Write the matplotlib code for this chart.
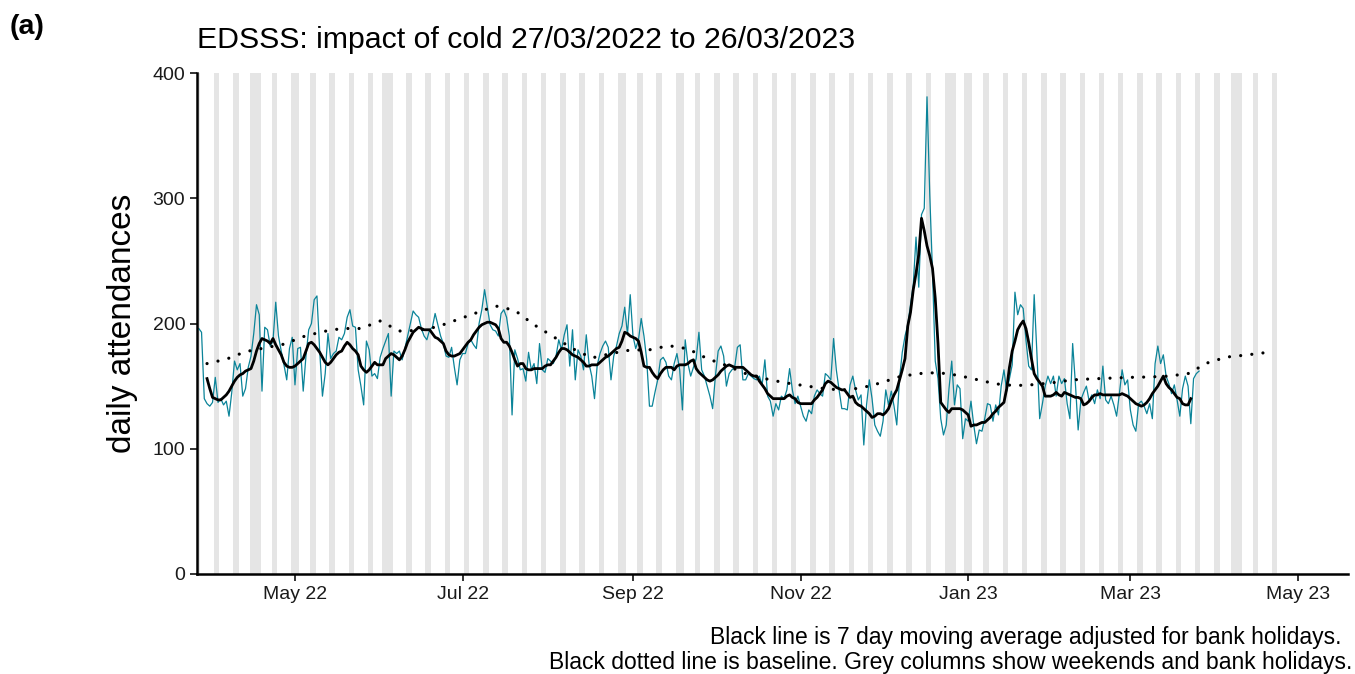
import pandas as pd
import numpy as np
import matplotlib.pyplot as plt
import matplotlib.dates as mdates

plt.rcParams['font.family'] = ['Liberation Sans', 'DejaVu Sans']

start = pd.Timestamp('2022-03-27')

# daily attendances, 27/03/2022 .. 26/03/2023 (one row = one week)
daily = [
    196, 193, 140, 136, 134, 137, 157,
    137, 140, 135, 138, 126, 145, 170,
    163, 168, 142, 148, 165, 174, 192,
    215, 207, 146, 197, 195, 182, 186,
    217, 190, 178, 167, 155, 180, 189,
    151, 180, 181, 146, 174, 195, 200,
    219, 222, 178, 142, 160, 192, 172,
    176, 178, 189, 187, 192, 205, 211,
    198, 197, 163, 150, 135, 186, 179,
    158, 160, 156, 173, 180, 186, 192,
    142, 178, 176, 178, 171, 180, 190,
    200, 210, 207, 205, 196, 190, 187,
    195, 197, 208, 199, 190, 184, 174,
    173, 181, 165, 151, 171, 176, 176,
    184, 187, 183, 180, 200, 211, 227,
    213, 199, 195, 194, 190, 208, 211,
    205, 190, 127, 179, 172, 163, 164,
    154, 177, 163, 168, 152, 184, 163,
    161, 172, 170, 168, 174, 187, 179,
    191, 199, 166, 195, 155, 179, 174,
    163, 191, 168, 158, 140, 167, 176,
    182, 186, 181, 155, 174, 182, 192,
    198, 213, 191, 223, 190, 180, 187,
    204, 190, 171, 134, 134, 145, 155,
    171, 173, 169, 158, 155, 168, 176,
    163, 131, 187, 168, 158, 165, 172,
    193, 163, 158, 150, 142, 132, 158,
    178, 182, 174, 150, 160, 163, 165,
    181, 183, 155, 155, 160, 158, 156,
    155, 158, 151, 171, 142, 138, 126,
    136, 131, 142, 140, 147, 164, 147,
    136, 142, 134, 126, 122, 131, 128,
    142, 147, 144, 142, 160, 158, 155,
    188, 163, 147, 132, 132, 131, 151,
    158, 147, 139, 143, 103, 135, 155,
    140, 119, 114, 110, 122, 147, 135,
    146, 134, 119, 156, 177, 190, 199,
    215, 231, 269, 229, 287, 292, 381,
    303, 241, 170, 156, 124, 111, 119,
    148, 170, 135, 151, 148, 108, 124,
    122, 138, 119, 104, 115, 114, 124,
    136, 135, 122, 135, 127, 150, 163,
    146, 156, 167, 225, 207, 215, 212,
    187, 166, 163, 223, 176, 124, 136,
    150, 158, 152, 158, 142, 158, 152,
    156, 136, 124, 184, 152, 115, 139,
    145, 150, 138, 143, 136, 147, 140,
    166, 139, 136, 142, 135, 126, 144,
    163, 151, 155, 131, 119, 114, 136,
    138, 134, 128, 136, 124, 168, 182,
    168, 175, 158, 152, 144, 151, 139,
    126, 148, 158, 150, 120, 156, 160,
    162,
]

# 7 day moving average, 30/03/2022 .. 23/03/2023
moving_avg = [
    156, 148, 141, 140, 139, 139, 141,
    143, 146, 150, 154, 157, 159, 160,
    162, 163, 164, 170, 178, 184, 188,
    187, 186, 184, 188, 183, 179, 175,
    169, 166, 165, 165, 166, 168, 170,
    172, 178, 184, 185, 183, 180, 177,
    173, 169, 167, 169, 172, 175, 177,
    178, 182, 185, 183, 180, 178, 175,
    166, 163, 161, 163, 166, 169, 167,
    167, 167, 172, 174, 176, 175, 173,
    171, 174, 179, 185, 189, 193, 195,
    197, 196, 195, 195, 195, 192, 189,
    188, 186, 184, 178, 175, 174, 174,
    175, 176, 179, 182, 185, 187, 191,
    194, 197, 199, 200, 201, 201, 200,
    199, 196, 188, 185, 185, 182, 177,
    171, 166, 168, 168, 164, 163, 163,
    164, 164, 164, 164, 166, 167, 167,
    170, 173, 177, 180, 180, 179, 177,
    175, 174, 173, 171, 169, 166, 166,
    167, 167, 167, 169, 171, 173, 174,
    176, 178, 180, 181, 186, 193, 192,
    190, 189, 188, 186, 177, 166, 165,
    165, 161, 158, 156, 160, 163, 165,
    165, 165, 163, 166, 167, 167, 167,
    168, 170, 171, 164, 161, 159, 157,
    155, 154, 155, 157, 159, 162, 164,
    166, 167, 166, 165, 165, 165, 165,
    163, 161, 159, 158, 158, 154, 151,
    148, 144, 142, 140, 140, 140, 140,
    140, 142, 143, 141, 140, 137, 136,
    136, 136, 136, 136, 139, 141, 144,
    147, 152, 154, 153, 151, 149, 148,
    147, 147, 144, 141, 142, 137, 135,
    134, 132, 130, 128, 125, 126, 128,
    128, 127, 129, 132, 138, 143, 147,
    155, 163, 172, 198, 209, 227, 240,
    255, 284, 274, 262, 254, 244, 220,
    184, 137, 134, 131, 129, 132, 132,
    132, 132, 131, 129, 127, 118, 119,
    119, 120, 121, 121, 123, 125, 128,
    130, 133, 135, 137, 148, 165, 178,
    186, 195, 199, 202, 196, 185, 172,
    160, 156, 153, 150, 142, 142, 142,
    143, 145, 143, 142, 145, 144, 143,
    142, 141, 141, 140, 135, 136, 138,
    141, 143, 143, 144, 143, 143, 143,
    143, 143, 143, 143, 144, 143, 142,
    140, 138, 136, 135, 134, 135, 137,
    140, 144, 147, 150, 154, 158, 152,
    149, 147, 144, 141, 140, 136, 135,
    135, 140,
]

# baseline, weekly from 30/03/2022
baseline = [
    168, 171.5, 177.5, 180.5, 183.5, 189.5, 193.5, 196, 196, 202,
    194, 194.5, 197.5, 203, 208.5, 214, 210.5, 199, 189.5, 180,
    172.5, 176, 178.8, 179, 182.3, 179.8, 172, 166.5, 160, 156,
    152.8, 150.5, 148.2, 146.8, 148.5, 152.5, 157.5, 160, 160.8, 158.7,
    155.3, 151.8, 150.4, 151.2, 152.8, 155, 155.8, 156.4, 157, 157.3,
    158, 160, 168.5, 173.2, 174.8, 176.7,
]

bank_holidays = ['2022-04-15', '2022-04-18', '2022-05-02', '2022-06-02',
                 '2022-06-03', '2022-08-29', '2022-09-19', '2022-12-26',
                 '2022-12-27', '2023-01-02', '2023-04-07', '2023-04-10']

days = pd.date_range(start, periods=len(daily), freq='D')
ma_days = pd.date_range(start + pd.Timedelta(days=3), periods=len(moving_avg), freq='D')
base_days = pd.date_range(start + pd.Timedelta(days=3), periods=len(baseline), freq='7D')

span = pd.date_range('2022-03-26', '2023-04-23', freq='D')
grey_days = span[(span.dayofweek >= 5) | span.isin(pd.to_datetime(bank_holidays))]

fig = plt.figure(figsize=(13.55, 6.74), dpi=100)
ax = fig.add_axes([197/1355, 1 - 574/674, 1151/1355, 501/674])

ax.bar(grey_days, 400, width=1, bottom=0, color='#e5e5e5', linewidth=0, zorder=0)
ax.plot(days, daily, color='#0b8499', lw=0.9, zorder=2)
ax.plot(base_days, baseline, color='black', lw=2.3, linestyle=(0, (0.01, 3.5)),
        dash_capstyle='round', zorder=3)
ax.plot(ma_days, moving_avg, color='black', lw=2.0, zorder=4)

ax.set_xlim(start - pd.Timedelta(hours=15.6), start + pd.Timedelta(days=418.2))
ax.set_ylim(0, 400)
ax.set_yticks([0, 100, 200, 300, 400])
ax.xaxis.set_major_locator(mdates.MonthLocator(bymonth=[1, 3, 5, 7, 9, 11]))
ax.xaxis.set_major_formatter(mdates.DateFormatter('%b %y'))

for s in ['top', 'right']:
    ax.spines[s].set_visible(False)
for s in ['left', 'bottom']:
    ax.spines[s].set_linewidth(1.8)
    ax.spines[s].set_color('black')
ax.tick_params(axis='both', length=5, width=1.4, color='#333333',
               labelsize=14, labelcolor='#1a1a1a', pad=3.5)

fig.text(123/1355, 1 - 323/674, 'daily attendances', rotation=90,
         ha='center', va='center', fontsize=24)
fig.text(197/1355, 1 - 48/674, 'EDSSS: impact of cold 27/03/2022 to 26/03/2023',
         ha='left', va='baseline', fontsize=21.8)
fig.text(10/1355, 1 - 34/674, '(a)', ha='left', va='baseline',
         fontsize=20.5, fontweight='bold')
fig.text(1342/1355, 1 - 644/674,
         'Black line is 7 day moving average adjusted for bank holidays.',
         ha='right', va='baseline', fontsize=16.5)
fig.text(1352/1355, 1 - 669/674,
         'Black dotted line is baseline. Grey columns show weekends and bank holidays.',
         ha='right', va='baseline', fontsize=16.5)

fig.savefig('out.png', dpi=100)
